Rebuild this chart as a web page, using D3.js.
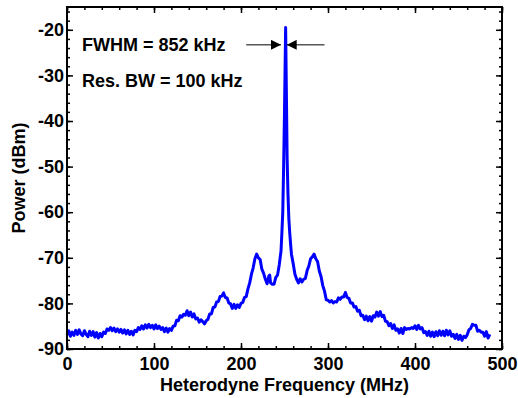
<!DOCTYPE html>
<html>
<head>
<meta charset="utf-8">
<script src="https://cdn.jsdelivr.net/npm/d3@7"></script>
<style>
  body { margin: 0; background: #fff; }
  text { font-family: "Liberation Sans", Arial, sans-serif; font-weight: bold; }
</style>
</head>
<body>
<script>
let width = 518;
let height = 398;

const freqMHz = [
  0, 2, 4, 6, 8, 10, 12, 14, 16, 18, 20, 22, 24, 26, 28, 30, 32, 34, 36, 38,
  40, 42, 44, 46, 48, 50, 52, 54, 56, 58, 60, 62, 64, 66, 68, 70, 72, 74, 76, 78,
  80, 82, 84, 86, 88, 90, 92, 94, 96, 98, 100, 102, 104, 106, 108, 110, 112, 114, 116, 118,
  120, 122, 124, 126, 128, 130, 132, 134, 136, 138, 140, 142, 144, 146, 148, 150, 152, 154, 156, 158,
  160, 162, 164, 166, 168, 170, 172, 174, 176, 178, 180, 182, 184, 186, 188, 190, 192, 194, 196, 198,
  200, 202, 204, 206, 208, 210, 212, 214, 216, 218, 220, 222, 224, 226, 228, 230, 232, 233, 234, 236,
  238, 240, 242, 244, 246, 247, 248, 249, 250, 251.3, 252.3, 253, 254, 255, 256, 257, 258, 260, 262, 264,
  266, 268, 270, 272, 274, 276, 278, 280, 282, 284, 286, 288, 290, 292, 294, 296, 298, 300, 302, 304,
  306, 308, 310, 312, 314, 316, 318, 320, 322, 324, 326, 328, 330, 332, 334, 336, 338, 340, 342, 344,
  346, 348, 350, 352, 354, 356, 358, 360, 362, 364, 366, 368, 370, 372, 374, 376, 378, 380, 382, 384,
  386, 388, 390, 392, 394, 396, 398, 400, 402, 404, 406, 408, 410, 412, 414, 416, 418, 420, 422, 424,
  426, 428, 430, 432, 434, 436, 438, 440, 442, 444, 446, 448, 450, 452, 454, 456, 458, 460, 462, 464,
  466, 468, 470, 472, 474, 476, 478, 480, 482, 484, 486
];
const powerDbm = [
  -86.9, -86.0, -87.2, -86.3, -87.0, -85.9, -86.8, -85.8, -86.7, -87.1, -86.0, -86.8, -87.3, -86.1, -87.0, -86.2, -87.4, -86.4, -87.6, -86.6,
  -87.3, -86.3, -86.6, -85.6, -85.9, -85.3, -86.0, -85.4, -86.2, -85.6, -86.3, -85.7, -86.5, -85.8, -86.7, -85.9, -86.8, -86.1, -86.9, -85.9,
  -86.2, -85.3, -85.7, -84.9, -85.6, -84.7, -85.4, -84.6, -85.3, -84.8, -85.6, -84.7, -85.5, -85.0, -85.7, -85.3, -86.2, -85.4, -86.3, -85.5,
  -85.9, -85.0, -84.9, -83.7, -83.8, -82.7, -83.0, -82.4, -82.6, -81.6, -82.7, -81.9, -83.0, -82.3, -83.4, -83.2, -84.1, -83.6, -84.0, -84.5,
  -83.8, -83.5, -82.3, -82.3, -80.9, -80.8, -79.7, -79.6, -78.5, -78.4, -77.7, -78.7, -78.8, -79.9, -80.1, -81.1, -80.2, -81.1, -80.3, -80.9,
  -80.0, -79.8, -78.7, -78.5, -76.8, -75.5, -73.6, -72.2, -70.2, -69.2, -70.0, -70.4, -72.5, -73.4, -74.7, -75.7, -74.0, -73.8, -75.5, -75.8,
  -75.8, -74.3, -73.8, -71.5, -68.5, -64.5, -60.0, -50.0, -38.0, -19.5, -36.0, -48.0, -56.0, -61.5, -64.5, -67.0, -69.2, -71.3, -73.6, -74.7,
  -75.5, -74.6, -75.3, -74.7, -74.5, -72.8, -71.8, -70.2, -69.8, -69.2, -70.2, -70.8, -72.9, -74.1, -76.1, -77.3, -79.2, -79.3, -79.7, -79.4,
  -79.9, -79.6, -79.7, -78.8, -79.1, -78.6, -78.6, -77.6, -78.7, -78.9, -79.9, -79.9, -80.8, -80.7, -81.7, -81.5, -82.7, -82.6, -83.6, -82.8,
  -83.8, -82.9, -83.9, -82.7, -83.0, -81.9, -82.8, -81.8, -82.9, -82.6, -83.9, -84.0, -84.9, -84.4, -85.5, -84.7, -85.9, -85.6, -86.5, -85.5,
  -86.6, -85.3, -85.7, -85.5, -85.6, -85.3, -85.5, -84.9, -85.7, -84.8, -85.6, -85.3, -86.4, -86.2, -87.0, -86.1, -87.2, -86.3, -87.3, -86.2,
  -87.1, -86.0, -87.0, -86.1, -87.1, -85.9, -86.9, -86.0, -87.2, -86.8, -87.7, -86.8, -87.9, -87.0, -88.1, -87.2, -87.5, -86.9, -85.8, -85.5,
  -84.6, -84.8, -84.8, -86.1, -85.9, -86.3, -86.3, -87.2, -86.2, -87.6, -86.8
];

const xTicks = [0, 100, 200, 300, 400, 500];
const yTicks = [-90, -80, -70, -60, -50, -40, -30, -20];
const notes = ['FWHM = 852 kHz', 'Res. BW = 100 kHz'];
const fwhmMarks = [246, 252.5]; // arrow tips (MHz) on either side of the peak

let margin = {left: 67, top: 7, right: 16, bottom: 49};
let w = width - margin.left - margin.right;
let h = height - margin.top - margin.bottom;

let x = d3.scaleLinear().domain([0, 500]).range([0, w]);
let y = d3.scaleLinear().domain([-90, -15]).range([h, 0]);

let svg = d3.select('body').append('svg')
  .attr('width', width)
  .attr('height', height);

let defs = svg.append('defs');
defs.append('marker')
  .attr('id', 'head')
  .attr('viewBox', '0 0 10 10')
  .attr('refX', 10)
  .attr('refY', 5)
  .attr('markerWidth', 10)
  .attr('markerHeight', 10)
  .attr('markerUnits', 'userSpaceOnUse')
  .attr('orient', 'auto')
  .append('path')
  .attr('d', 'M0,0L10,5L0,10Z')
  .style('fill', '#000');

let canvas = svg.append('g')
  .attr('transform', 'translate(' + margin.left + ',' + margin.top + ')');

// minor ticks (inward, all four sides)
let xMinor = d3.range(0, 501, 20);
let yMinor = d3.range(-90, -15, 2);
canvas.append('g').attr('transform', 'translate(0,' + h + ')')
  .call(d3.axisBottom(x).tickValues(xMinor).tickSize(-3).tickFormat(''));
canvas.append('g')
  .call(d3.axisTop(x).tickValues(xMinor).tickSize(-3).tickFormat(''));
canvas.append('g')
  .call(d3.axisLeft(y).tickValues(yMinor).tickSize(-3).tickFormat(''));
canvas.append('g').attr('transform', 'translate(' + w + ',0)')
  .call(d3.axisRight(y).tickValues(yMinor).tickSize(-3).tickFormat(''));

// major ticks
canvas.append('g').attr('class', 'xaxis').attr('transform', 'translate(0,' + h + ')')
  .call(d3.axisBottom(x).tickValues(xTicks).tickSize(-6).tickPadding(8).tickFormat(d => String(d)));
canvas.append('g')
  .call(d3.axisTop(x).tickValues(xTicks).tickSize(-6).tickFormat(''));
canvas.append('g').attr('class', 'yaxis')
  .call(d3.axisLeft(y).tickValues(yTicks).tickSize(-6).tickPadding(3).tickFormat(d => String(d)));
canvas.append('g').attr('transform', 'translate(' + w + ',0)')
  .call(d3.axisRight(y).tickValues(yTicks).tickSize(-6).tickFormat(''));

canvas.selectAll('.domain').remove();
canvas.selectAll('.tick line').style('stroke', '#000').style('stroke-width', 1.5);
canvas.selectAll('.xaxis text, .yaxis text')
  .style('font-size', '18px')
  .style('fill', '#000')
  .style('font-family', '"Liberation Sans", Arial, sans-serif')
  .style('font-weight', 'bold');

// spectrum trace
let line = d3.line()
  .x((d, i) => x(freqMHz[i]))
  .y(d => y(d));

canvas.append('path')
  .datum(powerDbm)
  .attr('d', line)
  .style('fill', 'none')
  .style('stroke', '#0000ff')
  .style('stroke-width', 3)
  .style('stroke-linejoin', 'round');

// frame
canvas.append('rect')
  .attr('x', 0)
  .attr('y', 0)
  .attr('width', w)
  .attr('height', h)
  .style('fill', 'none')
  .style('stroke', '#000')
  .style('stroke-width', 2);

// annotations
canvas.selectAll('.note')
  .data(notes)
  .enter().append('text')
  .attr('class', 'note')
  .attr('x', 15)
  .attr('y', (d, i) => 44 + i * 36)
  .style('font-size', '18px')
  .text(d => d);

let ay = y(-23.3);
canvas.append('line')
  .attr('x1', x(206)).attr('x2', x(fwhmMarks[0]))
  .attr('y1', ay).attr('y2', ay)
  .style('stroke', '#000').style('stroke-width', 1)
  .attr('marker-end', 'url(#head)');
canvas.append('line')
  .attr('x1', x(296)).attr('x2', x(fwhmMarks[1]))
  .attr('y1', ay).attr('y2', ay)
  .style('stroke', '#000').style('stroke-width', 1)
  .attr('marker-end', 'url(#head)');

// axis titles
svg.append('text')
  .attr('x', margin.left + w / 2)
  .attr('y', 391)
  .attr('text-anchor', 'middle')
  .style('font-size', '18px')
  .text('Heterodyne Frequency (MHz)');

svg.append('text')
  .attr('transform', 'translate(25,' + (margin.top + h / 2) + ') rotate(-90)')
  .attr('text-anchor', 'middle')
  .style('font-size', '18px')
  .text('Power (dBm)');
</script>
</body>
</html>
